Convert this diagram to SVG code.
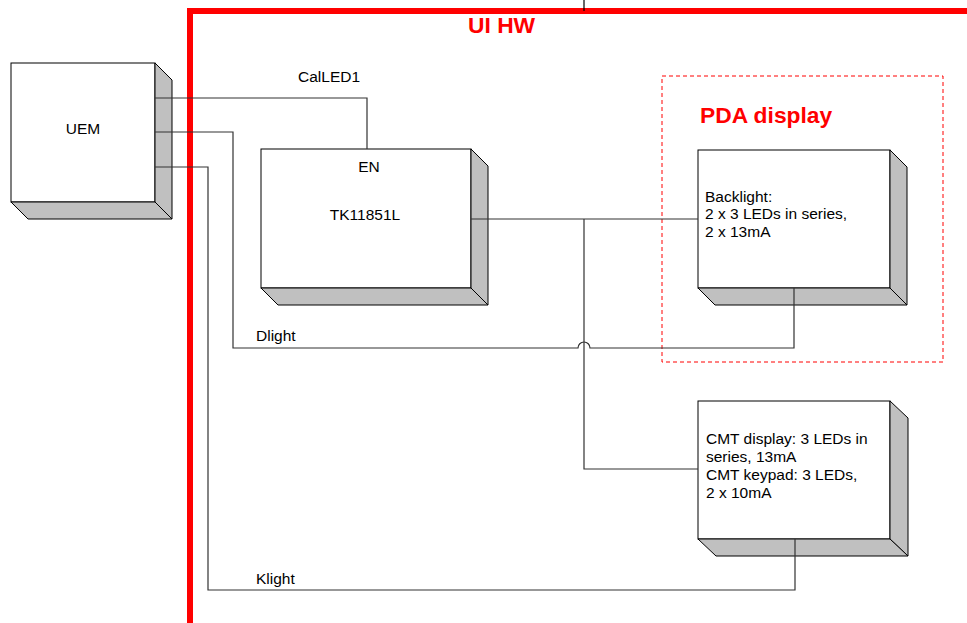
<svg xmlns="http://www.w3.org/2000/svg" width="967" height="623" viewBox="0 0 967 623">
<style>
.front{fill:#fff;stroke:#000;stroke-width:1}
.side{fill:#c0c0c0;stroke:#000;stroke-width:1}
.t{font-family:"Liberation Sans",Arial,sans-serif;font-size:15.5px;fill:#000}
.red{font-family:"Liberation Sans",Arial,sans-serif;font-size:22.8px;font-weight:bold;fill:#ff0000}
.wire{fill:none;stroke:#333;stroke-width:1.2}
</style>
<rect width="967" height="623" fill="#fff"/>
<g id="ui-hw-boundary">
<line x1="190" y1="8" x2="190" y2="623" stroke="#ff0000" stroke-width="6"/>
<line x1="187" y1="11" x2="967" y2="11" stroke="#ff0000" stroke-width="6"/>
<line x1="584" y1="0" x2="584" y2="11" stroke="#000" stroke-width="1.2"/>
<text class="red" x="468" y="33">UI HW</text>
</g>
<g id="pda-group">
<rect x="662" y="76" width="281" height="286" fill="none" stroke="#ff0000" stroke-width="1" stroke-dasharray="4,3"/>
<text class="red" x="700" y="123">PDA display</text>
</g>
<g id="uem">
<rect class="front" x="11" y="63" width="144" height="139"/>
<polygon class="side" points="155,63 172,80 172,219 155,202"/>
<polygon class="side" points="11,202 155,202 172,219 28,219"/>
<text class="t" x="83" y="134" text-anchor="middle">UEM</text>
</g>
<g id="tk11851l">
<rect class="front" x="261" y="149" width="210" height="139"/>
<polygon class="side" points="471,149 488,166 488,305 471,288"/>
<polygon class="side" points="261,288 471,288 488,305 278,305"/>
<text class="t" x="369" y="172" text-anchor="middle">EN</text>
<text class="t" x="365" y="220" text-anchor="middle">TK11851L</text>
</g>
<g id="pda-backlight">
<rect class="front" x="698" y="150" width="192" height="138"/>
<polygon class="side" points="890,150 907,167 907,305 890,288"/>
<polygon class="side" points="698,288 890,288 907,305 715,305"/>
<text class="t" x="705" y="202">Backlight:</text>
<text class="t" x="705" y="219">2 x 3 LEDs in series,</text>
<text class="t" x="705" y="237">2 x 13mA</text>
</g>
<g id="cmt">
<rect class="front" x="698" y="401" width="192" height="138"/>
<polygon class="side" points="890,401 908,418 908,556 890,539"/>
<polygon class="side" points="698,539 890,539 908,556 716,556"/>
<text class="t" x="706" y="444">CMT display: 3 LEDs in</text>
<text class="t" x="706" y="462">series, 13mA</text>
<text class="t" x="706" y="480">CMT keypad: 3 LEDs,</text>
<text class="t" x="706" y="498">2 x 10mA</text>
</g>
<g id="connectors">
<path class="wire" d="M155,98 H367 V149"/>
<path class="wire" d="M155,132 H233 V348 H578 A6,6 0 0 1 590,348 H794 V288"/>
<path class="wire" d="M155,167 H208 V590 H795 V539"/>
<path class="wire" d="M471,219 H698"/>
<path class="wire" d="M584,219 V469 H698"/>
<text class="t" x="298" y="82">CalLED1</text>
<text class="t" x="256" y="341">Dlight</text>
<text class="t" x="256" y="584">Klight</text>
</g>
</svg>
